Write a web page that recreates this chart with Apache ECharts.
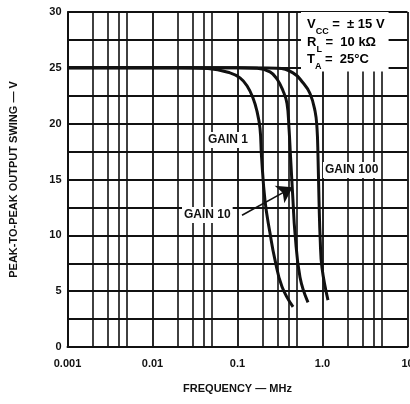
<!DOCTYPE html>
<html><head><meta charset="utf-8">
<script src="https://cdn.jsdelivr.net/npm/echarts@6/dist/echarts.min.js"></script>
<style>html,body{margin:0;padding:0;background:#fff}#c{width:410px;height:404px}</style>
</head><body><div id="c"></div>
<script>
// Tick values and labels
const xTicks = [0.001, 0.01, 0.1, 1, 10];
const xTickLabels = ['0.001', '0.01', '0.1', '1.0', '10'];
const minorFreqs = [0.002, 0.003, 0.004, 0.005, 0.02, 0.03, 0.04, 0.05, 0.2, 0.3, 0.4, 0.5, 2, 3, 4, 5];
// Curves: [frequency MHz, peak-to-peak swing V]
const gain1 = [[0.001, 25], [0.02, 25], [0.045, 24.93], [0.0816, 24.55], [0.107, 24.1], [0.1293, 23.4], [0.1522, 22.3], [0.1696, 21.1], [0.1839, 19.6], [0.1916, 17.1], [0.2107, 13.1], [0.2412, 10.2], [0.276, 7.8], [0.3339, 5.4], [0.45, 3.6]];
const gain10 = [[0.001, 25], [0.1, 25], [0.17, 24.96], [0.2412, 24.64], [0.2915, 24.0], [0.343, 22.95], [0.3823, 21.8], [0.4035, 19.6], [0.4203, 17.1], [0.4496, 13.1], [0.4747, 10.2], [0.5437, 6.25], [0.675, 4.0]];
const gain100 = [[0.001, 25], [0.1, 25], [0.29, 24.96], [0.4496, 24.55], [0.5896, 23.66], [0.7127, 22.7], [0.816, 21.15], [0.8616, 19.6], [0.885, 17.1], [0.91, 13.1], [0.94, 9.6], [0.9865, 7.1], [1.16, 4.2]];
const gain10Arrow = [[0.113, 11.8], [0.445, 14.3]];

const FONT = "'Liberation Sans', Arial, sans-serif";
const INK = '#111';

const chart = echarts.init(document.getElementById('c'), null, {renderer: 'canvas'});

function curve(name, data) {
  return {
    name, type: 'line', data, smooth: 0.45, showSymbol: false, symbol: 'none',
    lineStyle: {color: INK, width: 3}, z: 3, silent: true, animation: false
  };
}

const option = {
  animation: false,
  backgroundColor: '#fff',
  grid: {left: 67.5, right: 2.5, top: 12, bottom: 57, containLabel: false, outerBoundsMode: 'none'},
  xAxis: {
    type: 'log', logBase: 10, min: 0.001, max: 10,
    name: 'FREQUENCY — MHz', nameLocation: 'middle', nameGap: 36,
    nameTextStyle: {fontFamily: FONT, fontWeight: 'bold', fontSize: 11, color: INK},
    axisLine: {show: true, lineStyle: {color: INK, width: 2}},
    axisTick: {show: false},
    axisLabel: {
      fontFamily: FONT, fontWeight: 'bold', fontSize: 11, color: INK, margin: 11,
      formatter: function (v) {
        for (let i = 0; i < xTicks.length; i++) {
          if (Math.abs(Math.log10(v) - Math.log10(xTicks[i])) < 1e-6) return xTickLabels[i];
        }
        return '';
      }
    },
    splitLine: {show: true, lineStyle: {color: INK, width: 1.8}},
    minorTick: {show: false}, minorSplitLine: {show: false}
  },
  yAxis: {
    type: 'value', min: 0, max: 30, interval: 2.5,
    name: 'PEAK-TO-PEAK OUTPUT SWING — V', nameLocation: 'middle', nameGap: 48, nameRotate: 90,
    nameTextStyle: {fontFamily: FONT, fontWeight: 'bold', fontSize: 11, color: INK},
    axisLine: {show: true, lineStyle: {color: INK, width: 2}},
    axisTick: {show: false},
    axisLabel: {
      fontFamily: FONT, fontWeight: 'bold', fontSize: 11, color: INK, margin: 6,
      formatter: v => (Math.abs(v % 5) < 1e-9 ? String(v) : '')
    },
    splitLine: {show: true, lineStyle: {color: INK, width: 1.8}}
  },
  series: [
    {
      name: 'grid', type: 'line', data: [], z: 1, silent: true,
      markLine: {
        silent: true, symbol: 'none', animation: false,
        label: {show: false},
        lineStyle: {color: INK, width: 1.6, type: 'solid'},
        data: minorFreqs.map(f => [{coord: [f, 0]}, {coord: [f, 30]}])
      }
    },
    curve('GAIN 1', gain1),
    Object.assign(curve('GAIN 10', gain10), {
      markLine: {
        silent: true, animation: false, symbol: ['none', 'arrow'], symbolSize: 15,
        label: {show: false},
        itemStyle: {color: INK},
        lineStyle: {color: INK, width: 1.5, type: 'solid'},
        data: [[{coord: gain10Arrow[0]}, {coord: gain10Arrow[1]}]]
      }
    }),
    curve('GAIN 100', gain100)
  ],
  graphic: [
    {
      type: 'text', left: 301, top: 12, z: 10,
      style: {
        text: '{m|V}{s|CC}{m| =  ± 15 V}\n{m|R}{s|L}{m| =  10 kΩ}\n{m|T}{s|A}{m| =  25°C}',
        backgroundColor: '#fff', padding: [4, 4, 3, 6],
        rich: {
          m: {fontFamily: FONT, fontWeight: 'bold', fontSize: 13, color: INK, lineHeight: 17.5, verticalAlign: 'middle'},
          s: {fontFamily: FONT, fontWeight: 'bold', fontSize: 9, color: INK, lineHeight: 17.5, verticalAlign: 'bottom', padding: [0, 0, -3, 0]}
        }
      }
    },
    {
      type: 'text', left: 206, top: 132, z: 10,
      style: {text: 'GAIN 1', font: 'bold 12px ' + FONT, fill: INK, backgroundColor: '#fff', padding: [2, 2, 2, 2]}
    },
    {
      type: 'text', left: 323, top: 162, z: 10,
      style: {text: 'GAIN 100', font: 'bold 12px ' + FONT, fill: INK, backgroundColor: '#fff', padding: [2, 2, 2, 2]}
    },
    {
      type: 'text', left: 182, top: 207, z: 10,
      style: {text: 'GAIN 10', font: 'bold 12px ' + FONT, fill: INK, backgroundColor: '#fff', padding: [2, 2, 2, 2]}
    }
  ]
};
chart.setOption(option);
</script>
</body></html>
